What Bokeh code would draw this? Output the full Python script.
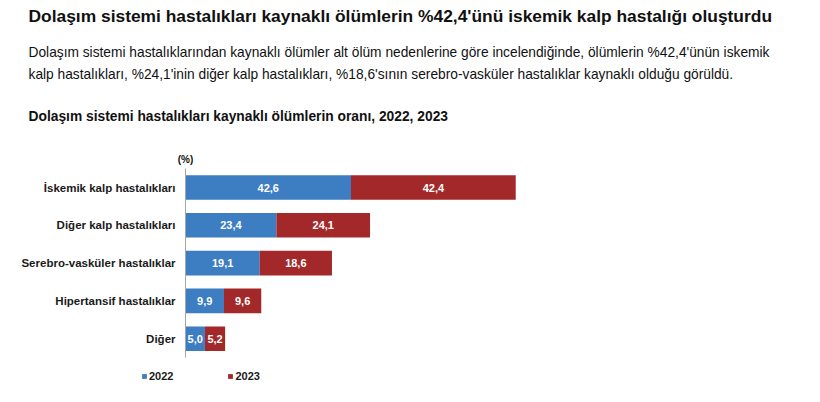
from bokeh.plotting import figure
from bokeh.models import Range1d, Label, ColumnDataSource, Legend, LegendItem
from bokeh.core.properties import value
from bokeh.embed import file_html
from bokeh.resources import INLINE

# ---- data ----
categories = ["İskemik kalp hastalıkları", "Diğer kalp hastalıkları",
              "Serebro-vasküler hastalıklar", "Hipertansif hastalıklar", "Diğer"]
values_2022 = [42.6, 23.4, 19.1, 9.9, 5.0]
values_2023 = [42.4, 24.1, 18.6, 9.6, 5.2]
years = ["2022", "2023"]

title_text = "Dolaşım sistemi hastalıkları kaynaklı ölümlerin %42,4'ünü iskemik kalp hastalığı oluşturdu"
para_line1 = ("Dolaşım sistemi hastalıklarından kaynaklı ölümler alt ölüm nedenlerine göre incelendiğinde, "
              "ölümlerin %42,4'ünün iskemik")
para_line2 = ("kalp hastalıkları, %24,1'inin diğer kalp hastalıkları, %18,6'sının serebro-vasküler "
              "hastalıklar kaynaklı olduğu görüldü.")
subtitle_text = "Dolaşım sistemi hastalıkları kaynaklı ölümlerin oranı, 2022, 2023"
unit_text = "(%)"

BLUE = "#3D7DC2"
RED = "#A3282A"
FONT = "Liberation Sans"
TXT = "#111111"

W, H = 804, 386
AX_X = 185          # pixel position of the value axis origin
PX_PER_UNIT = 3.885  # horizontal scale
ROW = 37.8           # pixel spacing of category rows
TOP_ROW_Y = 187      # pixel centre of first row

n = len(categories)
ypos = [n - 1 - i for i in range(n)]  # first category on top

p = figure(width=W, height=H, output_backend="svg", toolbar_location=None,
           x_range=Range1d(-AX_X / PX_PER_UNIT, (W - AX_X) / PX_PER_UNIT),
           y_range=Range1d((n - 1) - (H - TOP_ROW_Y) / ROW, (n - 1) + TOP_ROW_Y / ROW),
           min_border=0, min_border_left=0, min_border_right=0,
           min_border_top=0, min_border_bottom=0)
p.axis.visible = False
p.grid.visible = False
p.outline_line_color = None

src = ColumnDataSource(dict(cat=categories, y=ypos, y2022=values_2022, y2023=values_2023))
rs = p.hbar_stack(["y2022", "y2023"], y="y", height=0.65, color=[BLUE, RED],
                  line_color=None, source=src)

# category axis spine
p.segment(x0=[0], y0=[min(ypos) - 0.5], x1=[0], y1=[max(ypos) + 0.5],
          line_color="#A6A6A6", line_width=1)

# category labels
p.text(x=[0] * n, y=ypos, text=categories, x_offset=-10, text_align="right",
       text_baseline="middle", text_color="#1a1a1a", text_font=value(FONT),
       text_font_style="bold", text_font_size="11.5px")

# value labels
lx, ly, lt = [], [], []
for yy, a, b in zip(ypos, values_2022, values_2023):
    lx += [a / 2, a + b / 2]
    ly += [yy, yy]
    lt += [f"{a:.1f}".replace(".", ","), f"{b:.1f}".replace(".", ",")]
p.text(x=lx, y=ly, text=lt, text_align="center", text_baseline="middle",
       text_color="white", text_font=value(FONT), text_font_style="bold",
       text_font_size="11px")

legend = Legend(items=[LegendItem(label=years[0], renderers=[rs[0]]),
                       LegendItem(label=years[1], renderers=[rs[1]])],
                orientation="horizontal", location=(141, 4),
                glyph_width=6, glyph_height=6, label_standoff=2, spacing=54,
                padding=0, margin=0, border_line_color=None,
                background_fill_alpha=0,
                label_text_font=FONT, label_text_font_style="bold",
                label_text_font_size="11px", label_text_color="#1a1a1a",
                label_height=12)
p.add_layout(legend, "center")

def lab(text, x_px, y_px, size, bold=False, align="left"):
    p.add_layout(Label(x=x_px, y=H - y_px, x_units="screen", y_units="screen",
                       text=text, text_font=FONT, text_font_size=size,
                       text_font_style="bold" if bold else "normal",
                       text_color=TXT, text_align=align, text_baseline="middle"))

lab(title_text, 28, 15, "17.4px", bold=True)
lab(para_line1, 28, 52, "13.75px")
lab(para_line2, 28, 74, "13.75px")
lab(subtitle_text, 28, 116, "13.8px", bold=True)
lab(unit_text, 185, 159, "10px", bold=True, align="center")

open("out.html", "w").write(file_html(p, INLINE))
